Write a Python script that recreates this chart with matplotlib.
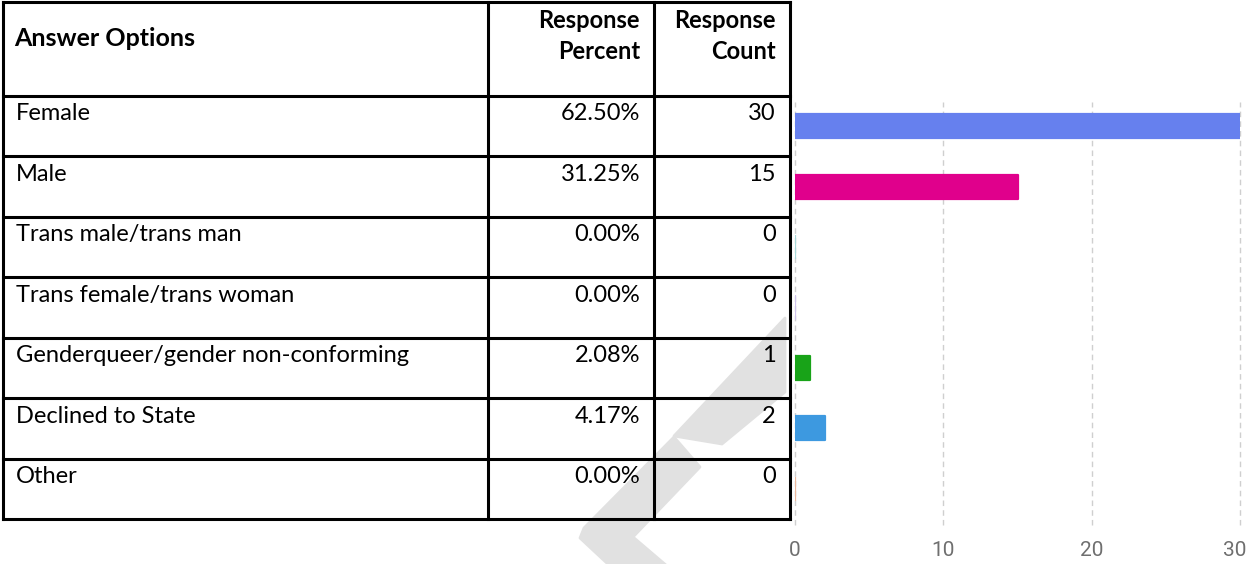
import matplotlib
matplotlib.use("Agg")
import matplotlib.pyplot as plt
from matplotlib.patches import Polygon
from matplotlib.transforms import ScaledTranslation

# survey table data
options = ["Female", "Male", "Trans male/trans man", "Trans female/trans woman",
           "Genderqueer/gender non-conforming", "Declined to State", "Other"]
percents = ["62.50%", "31.25%", "0.00%", "0.00%", "2.08%", "4.17%", "0.00%"]
counts = [30, 15, 0, 0, 1, 2, 0]
bar_colors = ["#6680ee", "#e0008c", "#a8d8d8", "#cfc3ec", "#18a318", "#3d99e0", "#ecb89c"]
x_ticks = [0, 10, 20, 30]

W, H = 1249, 564
fig = plt.figure(figsize=(W / 100, H / 100), dpi=100)

# table drawn in pixel coordinates
tab = fig.add_axes([0, 0, 1, 1])
tab.set_xlim(0, W)
tab.set_ylim(H, 0)
tab.axis("off")

# light grey watermark behind the table
wm_color = "#e1e1e1"
tab.add_patch(Polygon([(785, 318), (785, 392), (722, 444), (674, 436)],
                      closed=True, fc=wm_color, ec=wm_color, lw=2, joinstyle="round", zorder=0))
tab.add_patch(Polygon([(674, 437), (700, 467), (633, 537), (667, 566), (610, 566), (580, 538), (584, 528)],
                      closed=True, fc=wm_color, ec=wm_color, lw=2, joinstyle="round", zorder=0))

font = "Lato"
col_x = [3, 488, 654, 790]
header_top, header_bot = 1.5, 96
row_h = (519 - header_bot) / len(options)
row_tops = [header_bot + i * row_h for i in range(len(options) + 1)]

lw = 2.2
for y in [header_top] + row_tops:
    tab.plot([col_x[0], col_x[-1]], [y, y], color="black", lw=lw, solid_capstyle="projecting", zorder=3)
for x in col_x:
    tab.plot([x, x], [header_top, row_tops[-1]], color="black", lw=lw, solid_capstyle="projecting", zorder=3)

fs = 17
tab.text(14, 38, "Answer Options", fontsize=18, fontweight="bold", family=font, va="center", ha="left")
tab.text(640, 36, "Response\nPercent", fontsize=fs, fontweight="bold", family=font, va="center",
         ha="right", multialignment="right", linespacing=1.4)
tab.text(776, 36, "Response\nCount", fontsize=fs, fontweight="bold", family=font, va="center",
         ha="right", multialignment="right", linespacing=1.4)

for i, (opt, pct, cnt) in enumerate(zip(options, percents, counts)):
    yc = row_tops[i] + 18
    tab.text(16, yc, opt, fontsize=fs, family=font, va="center", ha="left")
    tab.text(640, yc, pct, fontsize=fs, family=font, va="center", ha="right")
    tab.text(776, yc, str(cnt), fontsize=fs, family=font, va="center", ha="right")

# bar chart aligned with the table rows
left, right = 795, 1240
ax = fig.add_axes([left / W, 1 - row_tops[-1] / H, (right - left) / W, (row_tops[-1] - header_bot) / H])
ax.set_xlim(0, 30)
ax.set_ylim(len(options) - 0.5, -0.5)
ax.barh(range(len(options)), counts, height=0.4, color=bar_colors, edgecolor=bar_colors,
        linewidth=1.6, joinstyle="round", zorder=3)
for t in x_ticks:
    ax.axvline(t, ymin=-0.015, ymax=0.985, color="#cfcfcf", lw=1, ls=(0, (4, 3)), clip_on=False, zorder=1)
ax.set_xticks(x_ticks)
ax.set_xticklabels([str(t) for t in x_ticks], fontsize=15, color="#6f6f6f", family="Roboto")
ax.tick_params(axis="x", length=0, pad=16)
# keep the last label inside the picture
last = ax.get_xticklabels()[-1]
last.set_transform(last.get_transform() + ScaledTranslation(-4 / 72, 0, fig.dpi_scale_trans))
ax.set_yticks([])
for s in ax.spines.values():
    s.set_visible(False)
ax.patch.set_alpha(0)

fig.savefig("out.png", dpi=100)
